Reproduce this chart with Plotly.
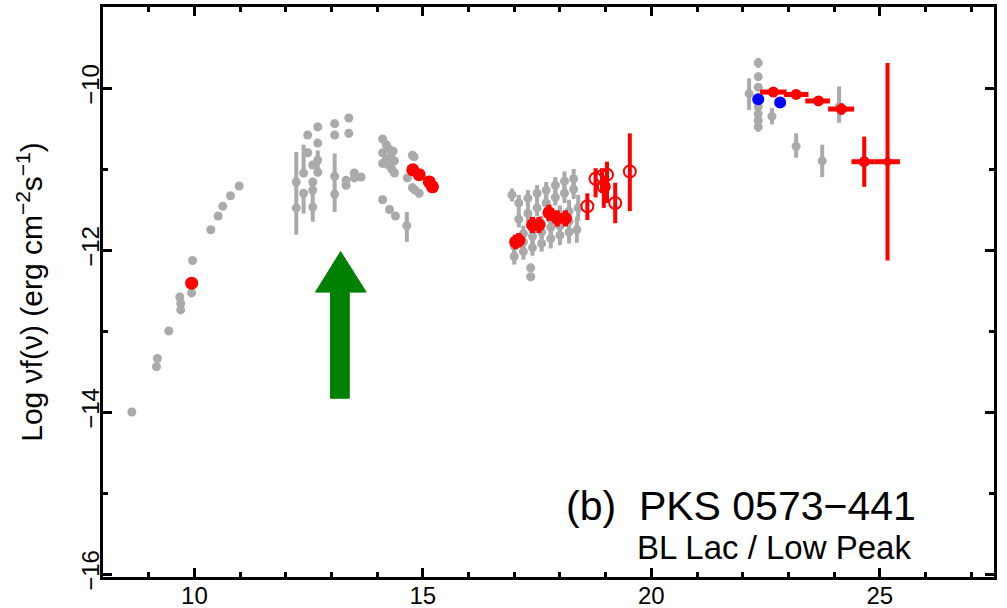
import plotly.graph_objects as go

# ---------------- data (log nu, log nuFnu) ----------------
# archival (grey) points, with asymmetric vertical errors (plus, minus)
grey_x = [8.63, 9.17, 9.19, 9.44, 9.70, 9.70, 9.68, 9.94, 9.96, 10.36, 10.52, 10.62, 10.79, 10.98,
          12.23, 12.23, 12.39, 12.39, 12.48, 12.48, 12.59, 12.59, 12.59, 12.59,
          12.70, 12.70, 12.70, 12.70, 13.07, 13.07, 13.07, 13.07, 13.32, 13.32,
          13.38, 13.38, 13.50, 13.50, 13.65,
          14.12, 14.12, 14.12, 14.12, 14.20, 14.25, 14.30, 14.35, 14.25, 14.32, 14.38, 14.20, 14.38,
          14.27, 14.40, 14.65, 14.66, 14.77, 14.83, 14.77, 14.92, 14.81,
          16.95, 17.10, 17.30, 17.50, 17.70, 17.90, 18.10, 18.30,
          17.10, 17.30, 17.50, 17.70, 17.90, 18.10, 18.30,
          17.20, 17.40, 17.60, 17.80, 18.00, 18.20, 18.40,
          17.00, 17.20, 17.40, 17.60, 17.80, 18.00, 18.20, 18.37,
          17.00, 17.20, 17.40, 17.60, 17.80, 18.00, 18.20,
          17.36, 17.36,
          22.14, 22.34, 22.34, 22.34, 22.34, 22.34, 22.34, 22.34,
          22.64, 23.17, 23.74, 24.11]
grey_y = [-14.00, -13.44, -13.34, -13.00, -12.74, -12.66, -12.58, -12.53, -12.13, -11.75, -11.58, -11.46, -11.33, -11.21,
          -11.16, -11.48, -11.05, -11.30, -10.58, -10.80, -10.95, -11.16, -11.26, -11.47,
          -10.48, -10.68, -10.89, -11.04, -10.44, -10.58, -11.09, -11.31, -11.14, -11.20,
          -10.37, -10.56, -11.05, -11.11, -11.10,
          -10.63, -10.80, -10.93, -11.38, -10.70, -10.75, -10.85, -10.78, -10.95, -11.00, -10.90, -10.88, -11.05,
          -11.50, -11.58, -11.70, -11.11, -10.83, -11.26, -11.23, -11.30, -10.85,
          -11.32, -11.42, -11.36, -11.30, -11.26, -11.20, -11.15, -11.12,
          -11.62, -11.55, -11.48, -11.42, -11.35, -11.30, -11.25,
          -11.80, -11.74, -11.68, -11.62, -11.57, -11.52, -11.48,
          -11.95, -11.90, -11.83, -11.78, -11.72, -11.70, -11.65, -11.75,
          -12.08, -12.02, -11.97, -11.92, -11.86, -11.82, -11.78,
          -12.22, -12.33,
          -10.07, -9.69, -9.86, -9.99, -10.23, -10.32, -10.40, -10.48,
          -10.35, -10.72, -10.90, -10.23]
grey_ep = [0, 0, 0, 0, 0, 0, 0, 0, 0, 0, 0, 0, 0, 0,
           0.37, 0.05, 0.35, 0.05, 0.05, 0.05, 0.05, 0.05, 0.05, 0.18,
           0.05, 0.05, 0.12, 0.05, 0.05, 0.05, 0.28, 0.05, 0.05, 0.05,
           0.05, 0.05, 0.05, 0.05, 0.05,
           0.05, 0.05, 0.05, 0.05, 0.05, 0.05, 0.05, 0.05, 0.05, 0.05, 0.05, 0.05, 0.05,
           0.05, 0.05, 0.17, 0.05, 0.05, 0.05, 0.05, 0.05, 0.05,
           0.08, 0.10, 0.10, 0.10, 0.10, 0.10, 0.12, 0.12,
           0.10, 0.10, 0.10, 0.10, 0.10, 0.12, 0.12,
           0.10, 0.10, 0.10, 0.12, 0.12, 0.14, 0.16,
           0.10, 0.10, 0.10, 0.10, 0.12, 0.12, 0.14, 0.16,
           0.10, 0.10, 0.10, 0.10, 0.12, 0.12, 0.14,
           0.05, 0.05,
           0.19, 0.06, 0.05, 0.05, 0.05, 0.05, 0.05, 0.06,
           0.10, 0.16, 0.20, 0.25]
grey_em = [0, 0, 0, 0, 0, 0, 0, 0, 0, 0, 0, 0, 0, 0,
           0.30, 0.33, 0.05, 0.25, 0.05, 0.05, 0.05, 0.05, 0.05, 0.18,
           0.05, 0.05, 0.12, 0.05, 0.05, 0.05, 0.44, 0.05, 0.05, 0.05,
           0.05, 0.05, 0.05, 0.05, 0.05,
           0.05, 0.05, 0.05, 0.05, 0.05, 0.05, 0.05, 0.05, 0.05, 0.05, 0.05, 0.05, 0.05,
           0.05, 0.05, 0.20, 0.05, 0.05, 0.05, 0.05, 0.05, 0.05,
           0.08, 0.10, 0.10, 0.10, 0.10, 0.10, 0.12, 0.12,
           0.10, 0.10, 0.10, 0.10, 0.10, 0.12, 0.12,
           0.10, 0.10, 0.10, 0.12, 0.12, 0.14, 0.16,
           0.10, 0.10, 0.10, 0.10, 0.12, 0.12, 0.14, 0.16,
           0.10, 0.10, 0.10, 0.10, 0.12, 0.12, 0.14,
           0.05, 0.05,
           0.20, 0.06, 0.05, 0.05, 0.05, 0.05, 0.05, 0.06,
           0.10, 0.14, 0.20, 0.20]

# simultaneous (red, filled) points
red_x = [9.94, 14.78, 14.92, 15.14, 15.21,
         17.03, 17.10, 17.40, 17.54, 17.76, 17.94, 18.12]
red_y = [-12.41, -11.01, -11.07, -11.16, -11.22,
         -11.90, -11.88, -11.69, -11.69, -11.54, -11.61, -11.61]
red_ex = [0, 0.06, 0.06, 0.06, 0.06,
          0.07, 0.07, 0.08, 0.08, 0.08, 0.09, 0.09]
red_ey = [0, 0.04, 0.04, 0.04, 0.04,
          0.09, 0.09, 0.10, 0.10, 0.10, 0.10, 0.10]

# hard X-ray (red, open) points
open_x = [18.60, 18.78, 18.92, 18.96, 19.03, 19.21, 19.53]
open_y = [-11.46, -11.12, -11.09, -11.22, -11.07, -11.42, -11.03]
open_ep = [0.16, 0.13, 0.10, 0.14, 0.16, 0.25, 0.47]
open_em = [0.17, 0.23, 0.20, 0.26, 0.35, 0.25, 0.49]

# gamma-ray (red) points with energy bins
gam_x = [22.67, 23.17, 23.66, 24.16, 24.66]
gam_y = [-10.05, -10.08, -10.16, -10.26, -10.91]
gam_exm = [0.29, 0.27, 0.29, 0.29, 0.28]
gam_exp = [0.29, 0.27, 0.25, 0.28, 0.23]
gam_eyp = [0.04, 0.04, 0.04, 0.07, 0.31]
gam_eym = [0.04, 0.04, 0.04, 0.07, 0.31]

# last gamma-ray bin (large uncertainty)
gl_x = [25.17]
gl_y = [-10.91]
gl_exm = [0.28]
gl_exp = [0.27]
gl_eyp = [1.22]
gl_eym = [1.22]

# blue points
blue_x = [22.34, 22.82]
blue_y = [-10.14, -10.18]
blue_ey = [0.07, 0.05]

# green arrow outline (data coords)
arrow_x = [13.20, 13.76, 13.39, 13.39, 12.98, 12.98, 12.65]
arrow_y = [-12.02, -12.52, -12.52, -13.83, -13.83, -12.52, -12.52]

x_ticks = [10, 15, 20, 25]
y_ticks = [-10, -12, -14, -16]

GREY = "#aaaaaa"
RED = "#ff0000"
FONT = "Liberation Sans"

fig = go.Figure()

fig.add_trace(go.Scatter(
    x=grey_x, y=grey_y, mode="markers",
    marker=dict(color=GREY, size=9),
    error_y=dict(type="data", symmetric=False, array=grey_ep, arrayminus=grey_em,
                 color=GREY, thickness=4, width=0),
    showlegend=False))

fig.add_trace(go.Scatter(
    x=blue_x, y=blue_y, mode="markers",
    marker=dict(color="#0000ff", size=12),
    error_y=dict(type="data", array=blue_ey, color="#0000ff", thickness=2, width=0),
    showlegend=False))

fig.add_trace(go.Scatter(
    x=gam_x, y=gam_y, mode="markers",
    marker=dict(color=RED, size=11),
    error_x=dict(type="data", symmetric=False, array=gam_exp, arrayminus=gam_exm,
                 color=RED, thickness=5, width=0),
    error_y=dict(type="data", symmetric=False, array=gam_eyp, arrayminus=gam_eym,
                 color=RED, thickness=4, width=0),
    showlegend=False))

fig.add_trace(go.Scatter(
    x=gl_x, y=gl_y, mode="markers",
    marker=dict(color=RED, size=9, symbol="diamond"),
    error_x=dict(type="data", symmetric=False, array=gl_exp, arrayminus=gl_exm,
                 color=RED, thickness=5, width=0),
    error_y=dict(type="data", symmetric=False, array=gl_eyp, arrayminus=gl_eym,
                 color=RED, thickness=4, width=0),
    showlegend=False))

fig.add_trace(go.Scatter(
    x=open_x, y=open_y, mode="markers",
    marker=dict(color="rgba(0,0,0,0)", size=12, line=dict(color=RED, width=2)),
    error_y=dict(type="data", symmetric=False, array=open_ep, arrayminus=open_em,
                 color=RED, thickness=4, width=0),
    showlegend=False))

fig.add_trace(go.Scatter(
    x=red_x, y=red_y, mode="markers",
    marker=dict(color=RED, size=13),
    error_x=dict(type="data", array=red_ex, color=RED, thickness=5, width=0),
    error_y=dict(type="data", array=red_ey, color=RED, thickness=5, width=0),
    showlegend=False))

# green arrow as a filled path in data coordinates
path = "M " + " L ".join(f"{x},{y}" for x, y in zip(arrow_x, arrow_y)) + " Z"
fig.add_shape(type="path", path=path, xref="x", yref="y",
              fillcolor="#008000", line=dict(color="#008000", width=1), layer="above")

fig.add_annotation(x=0.5185, y=0.125, xref="paper", yref="paper", xanchor="left", yanchor="middle",
                   text="(b)  PKS 0573\u2212441", showarrow=False, borderpad=0,
                   font=dict(family=FONT, size=41, color="black"))
fig.add_annotation(x=0.598, y=0.052, xref="paper", yref="paper", xanchor="left", yanchor="middle",
                   text="BL Lac / Low Peak", showarrow=False, borderpad=0,
                   font=dict(family=FONT, size=33, color="black"))

axis_common = dict(showline=True, linecolor="black", linewidth=3, mirror="ticks",
                   ticks="inside", ticklen=9, tickwidth=3, tickcolor="black",
                   showgrid=False, zeroline=False,
                   tickfont=dict(family=FONT, size=24, color="black"))

fig.update_xaxes(range=[8.0, 27.5], tickvals=x_ticks, ticktext=[str(v) for v in x_ticks],
                 ticklabelstandoff=-5,
                 minor=dict(dtick=1, tick0=0, ticks="inside", ticklen=5, tickwidth=3, tickcolor="black"),
                 **axis_common)
fig.update_yaxes(range=[-16.037, -9.0], tickvals=y_ticks,
                 ticktext=["\u2212" + str(abs(v)) for v in y_ticks], tickangle=-90,
                 ticklabelstandoff=-9,
                 minor=dict(dtick=1, tick0=0, ticks="inside", ticklen=5, tickwidth=3, tickcolor="black"),
                 title=dict(text="Log \u03bdf(\u03bd) (erg cm<sup>\u22122</sup>s<sup>\u22121</sup>)",
                            font=dict(family=FONT, size=30, color="black"), standoff=26),
                 **axis_common)

fig.update_layout(width=1007, height=608,
                  margin=dict(l=103, r=13, t=7, b=31, autoexpand=False),
                  paper_bgcolor="white", plot_bgcolor="white",
                  font=dict(family=FONT, color="black"))

# remove the default 8px page margin so the figure fills the window exactly
fig.write_html("out.html", config={"displayModeBar": False},
               post_script="document.body.style.margin='0';document.body.style.overflow='hidden';")
